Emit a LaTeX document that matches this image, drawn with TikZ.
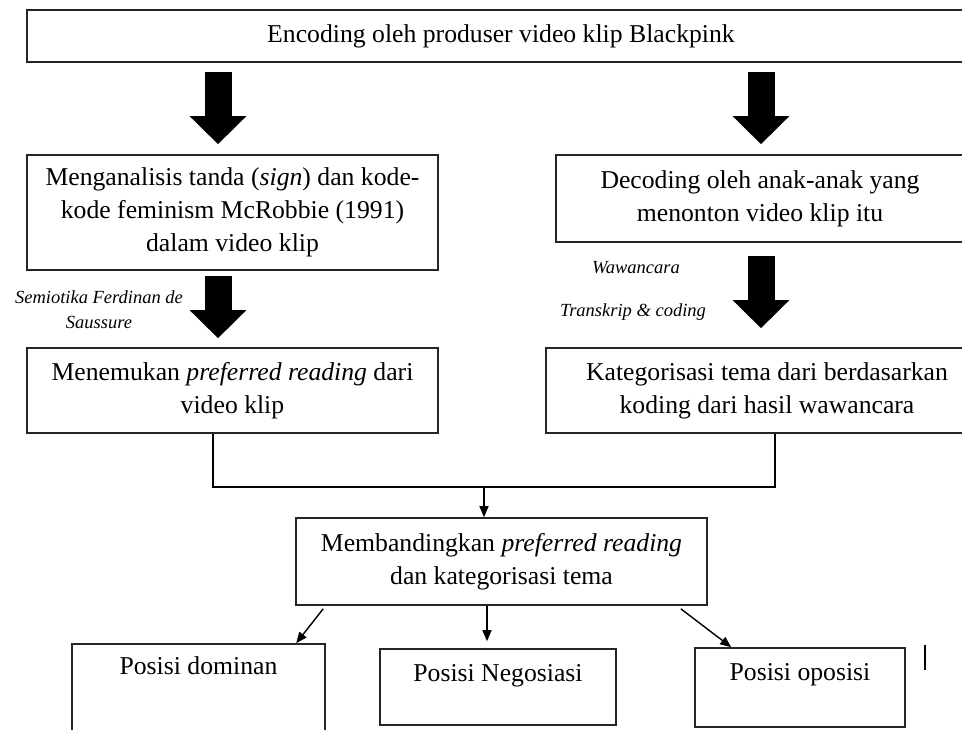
\documentclass[tikz,border=0pt]{standalone}
\usepackage{fontspec}
\setmainfont{Liberation Serif}
\usetikzlibrary{arrows.meta,positioning}

\begin{document}
\begin{tikzpicture}[x=1pt,y=-1pt,
    box/.style={draw=black!85, line width=1.6pt, align=center, inner sep=0pt,
      font=\fontsize{25.7}{33}\selectfont},
    bigarrow/.style={line width=27pt, -{Triangle[width=55pt,length=28pt]}},
    thin/.style={line width=1.4pt, -{Triangle[width=9pt,length=11pt]}},
    method/.style={font=\fontsize{18.5}{25}\selectfont\itshape, align=center, inner sep=0pt},
    posname/.style={anchor=north, inner sep=0pt, yshift=-13pt,
      font=\fontsize{25.7}{33}\selectfont}]
  \useasboundingbox (0,0) rectangle (962,730);
  \node[box, minimum width=948pt, minimum height=52pt] (Encoding) at (501,36)
    {Encoding oleh produser video klip Blackpink};
  \node[box, minimum width=411pt, minimum height=115pt] (Analisis) at (232.5,212.5)
    {Menganalisis tanda (\textit{sign}) dan kode-\\kode feminism McRobbie (1991)\\dalam video klip};
  \node[box, minimum width=408pt, minimum height=87pt] (Decoding) at (760,198.5)
    {Decoding oleh anak-anak yang\\menonton video klip itu};
  \node[box, minimum width=411pt, minimum height=85pt] (Preferred) at (232.5,390.5)
    {Menemukan \textit{preferred reading} dari\\video klip};
  \node[box, minimum width=442pt, minimum height=85pt] (Kategori) at (767,390.5)
    {Kategorisasi tema dari berdasarkan\\koding dari hasil wawancara};
  \node[box, minimum width=411pt, minimum height=87pt] (Banding) at (501.5,561.5)
    {Membandingkan \textit{preferred reading}\\dan kategorisasi tema};
  \node[box, minimum width=253pt, minimum height=116pt,
    label={[posname]north:Posisi dominan}] (Dominan) at (198.5,702) {};
  \node[box, minimum width=236pt, minimum height=76pt,
    label={[posname, yshift=-3pt]north:Posisi Negosiasi}] (Negosiasi) at (498,687) {};
  \node[box, minimum width=210pt, minimum height=79pt,
    label={[posname, yshift=-3pt]north:Posisi oposisi}] (Oposisi) at (800,687.5) {};

  \node[method] (Semiotika) at (99,310) {Semiotika Ferdinan de\\Saussure};
  \node[method] (Wawancara) at (636,268) {Wawancara};
  \node[method] (Transkrip) at (633,312) {Transkrip \& coding};

  % panah tebal
  \coordinate (kiri) at (218,0);
  \coordinate (kanan) at (761,0);
  \draw[bigarrow, shorten <=9pt, shorten >=10pt] (Encoding.south -| kiri) -- (Analisis.north -| kiri);
  \draw[bigarrow, shorten <=5pt, shorten >=9pt] (Analisis.south -| kiri) -- (Preferred.north -| kiri);
  \draw[bigarrow, shorten <=9pt, shorten >=10pt] (Encoding.south -| kanan) -- (Decoding.north -| kanan);
  \draw[bigarrow, shorten <=13pt, shorten >=19pt] (Decoding.south -| kanan) -- (Kategori.north -| kanan);

  % gabungan
  \coordinate (jl) at (213,487);
  \coordinate (jr) at (775,487);
  \coordinate (jm) at (484,487);
  \draw[line width=1.4pt] (Preferred.south -| jl) -- (jl) -- (jr) -- (Kategori.south -| jr);
  \draw[thin] (jm) -- (Banding.north -| jm);

  % posisi
  \coordinate (jn) at (487,0);
  \draw[thin] ([shift={(28,3)}]Banding.south west) -- ([shift={(225,0)}]Dominan.north west);
  \draw[thin, shorten >=7pt] (Banding.south -| jn) -- (Negosiasi.north -| jn);
  \draw[thin] ([shift={(-27,3)}]Banding.south east) -- ([shift={(37,0)}]Oposisi.north west);
  \draw[line width=1.5pt] (925,645) -- (925,670);
\end{tikzpicture}
\end{document}
